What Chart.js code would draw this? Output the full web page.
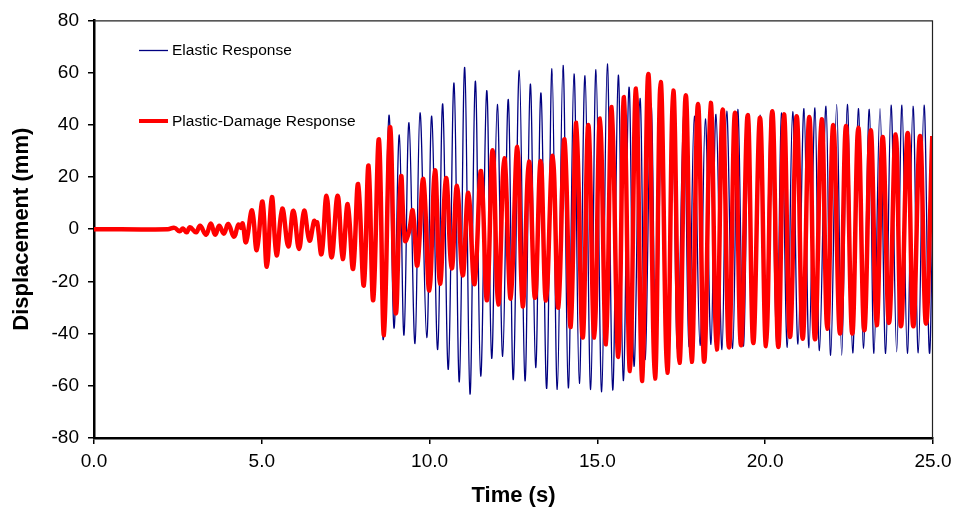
<!DOCTYPE html>
<html>
<head>
<meta charset="utf-8">
<script src="https://cdn.jsdelivr.net/npm/chart.js@4/dist/chart.umd.min.js"></script>
<style>
  html, body { margin: 0; padding: 0; background: #fff; }
  #wrap { width: 955px; height: 509px; position: relative; }
</style>
</head>
<body>
<div id="wrap"><canvas id="c" width="955" height="509"></canvas></div>
<script>
// ---- Data (time in s, displacement in mm) ----
// Shared early part (both responses coincide before ~8.5 s)
const earlyTime = [0, 2.20, 2.40, 2.55, 2.65, 2.76, 2.86, 3.04, 3.16, 3.34, 3.48, 3.61, 3.73, 3.87, 4.00, 4.17, 4.30, 4.37, 4.43, 4.53, 4.71, 4.85, 5.02, 5.15, 5.30, 5.44, 5.61, 5.79, 5.94, 6.11, 6.26, 6.42, 6.56, 6.60, 6.65, 6.78, 6.93, 7.08, 7.26, 7.41, 7.56, 7.72, 7.87, 8.04, 8.18, 8.32, 8.49];
const earlyDisp = [0, 0, 0.5, -0.8, 0.3, -1.2, 0.7, -1.2, 1.3, -2.1, 2.2, -2.1, 1.3, -1.7, 2.0, -2.9, 1.7, 0.5, 2.2, -5.0, 7.2, -8.0, 10.6, -14.4, 12.3, -10.0, 7.9, -6.6, 7.1, -7.6, 7.1, -4.4, 3.2, 2.0, 2.6, -9.5, 12.8, -10.8, 12.8, -11.4, 9.6, -15.2, 17.3, -21.6, 24.4, -27.2, 34.4];

// Elastic response after 8.5 s
const elasticTime = [8.620, 8.790, 8.939, 9.097, 9.237, 9.386, 9.565, 9.714, 9.914, 10.063, 10.241, 10.390, 10.557, 10.727, 10.885, 11.046, 11.204, 11.362, 11.523, 11.702, 11.850, 12.017, 12.178, 12.345, 12.494, 12.673, 12.843, 13.001, 13.161, 13.319, 13.489, 13.647, 13.805, 13.975, 14.133, 14.303, 14.461, 14.631, 14.800, 14.958, 15.128, 15.295, 15.456, 15.623, 15.772, 15.942, 16.091, 16.269, 16.418, 16.597, 16.746, 16.925, 17.074, 17.238, 17.387, 17.580, 17.729, 17.887, 18.057, 18.215, 18.385, 18.534, 18.713, 18.853, 19.032, 19.181, 19.348, 19.508, 19.666, 19.845, 20.003, 20.173, 20.343, 20.492, 20.659, 20.819, 20.977, 21.156, 21.305, 21.484, 21.618, 21.812, 21.952, 22.130, 22.280, 22.446, 22.607, 22.774, 22.923, 23.102, 23.242, 23.421, 23.590, 23.749, 23.918, 24.076, 24.234, 24.404, 24.562, 24.732, 24.890, 25.0];
const elasticDisp = [-42.3, 43.7, -37.9, 36.1, -40.6, 40.8, -43.8, 44.6, -41.5, 43.3, -46.1, 48.0, -53.7, 56.0, -58.5, 62.0, -63.2, 56.7, -56.3, 53.1, -49.5, 47.8, -48.7, 49.7, -57.6, 60.8, -58.1, 55.6, -53.0, 52.2, -61.0, 61.5, -61.4, 62.8, -60.8, 59.5, -59.1, 58.8, -61.4, 61.1, -62.3, 63.3, -61.6, 59.0, -58.0, 54.4, -52.5, 50.1, -50.0, 48.0, -48.0, 46.0, -47.0, 46.0, -46.0, 46.2, -45.0, 43.3, -44.5, 42.3, -44.1, 44.0, -46.1, 45.2, -45.7, 45.9, -44.8, 44.2, -43.8, 43.7, -43.2, 45.2, -44.8, 44.6, -45.3, 45.0, -44.0, 46.2, -45.5, 46.5, -46.5, 47.1, -48.3, 47.8, -48.3, 47.8, -47.4, 46.2, -45.7, 45.9, -47.6, 46.2, -47.6, 47.5, -47.0, 47.5, -47.6, 47.1, -47.4, 47.5, -47.0, 10.0];

// Plastic-damage response after 8.5 s
const plasticTime = [8.641, 8.820, 8.990, 9.148, 9.267, 9.386, 9.497, 9.634, 9.812, 9.991, 10.161, 10.310, 10.489, 10.659, 10.816, 10.986, 11.153, 11.338, 11.532, 11.710, 11.880, 12.047, 12.226, 12.417, 12.613, 12.774, 12.962, 13.141, 13.310, 13.468, 13.668, 13.835, 14.020, 14.204, 14.371, 14.562, 14.729, 14.908, 15.077, 15.256, 15.426, 15.623, 15.793, 15.971, 16.150, 16.338, 16.517, 16.716, 16.886, 17.083, 17.262, 17.446, 17.634, 17.810, 17.998, 18.182, 18.376, 18.555, 18.734, 18.921, 19.100, 19.279, 19.479, 19.645, 19.845, 20.024, 20.212, 20.391, 20.560, 20.739, 20.939, 21.118, 21.314, 21.484, 21.684, 21.851, 22.029, 22.229, 22.408, 22.595, 22.774, 22.953, 23.144, 23.322, 23.501, 23.689, 23.888, 24.047, 24.246, 24.413, 24.613, 24.791, 24.979];
const plasticDisp = [-40.6, 39.1, -32.1, 20.0, -4.4, -1.0, 7.1, -13.9, 19.2, -23.5, 22.6, -20.9, 19.6, -15.0, 16.6, -17.7, 13.9, -21.0, 22.3, -27.2, 30.2, -28.8, 27.2, -26.6, 31.5, -29.6, 25.9, -26.3, 26.1, -27.3, 28.1, -30.1, 34.4, -37.5, 40.8, -41.5, 39.9, -41.5, 42.4, -44.1, 46.8, -48.9, 50.6, -54.3, 53.9, -58.1, 59.5, -57.2, 56.4, -55.0, 53.1, -51.2, 51.3, -50.8, 48.0, -50.8, 48.4, -46.1, 45.9, -45.3, 44.6, -44.5, 43.7, -43.6, 42.7, -44.8, 45.2, -45.1, 44.0, -41.3, 43.3, -42.0, 43.0, -42.2, 42.1, -38.1, 39.9, -40.0, 39.5, -40.0, 38.9, -38.7, 37.9, -36.8, 35.3, -35.9, 36.3, -37.2, 36.9, -37.2, 35.7, -36.2, 35.7];

const seriesNames = ['Elastic Response', 'Plastic-Damage Response'];
const xTickLabels = ['0.0', '5.0', '10.0', '15.0', '20.0', '25.0'];
const yTickLabels = ['80', '60', '40', '20', '0', '-20', '-40', '-60', '-80'];

// ---- build point lists ----
function pts(ts, vs) { return ts.map((t, i) => ({ x: t, y: vs[i] })); }
const elasticPts = pts(earlyTime.concat(elasticTime), earlyDisp.concat(elasticDisp));
const plasticPts = pts(earlyTime.concat(plasticTime), earlyDisp.concat(plasticDisp));

const FONT = "'Liberation Sans', Arial, Helvetica, sans-serif";

const framePlugin = {
  id: 'frame',
  afterDatasetsDraw(chart) {
    const { ctx, chartArea: a } = chart;
    ctx.save();
    ctx.strokeStyle = '#222';
    ctx.lineWidth = 1.2;
    ctx.beginPath();
    ctx.moveTo(a.left, a.top + 0.5);
    ctx.lineTo(a.right - 0.5, a.top + 0.5);
    ctx.lineTo(a.right - 0.5, a.bottom);
    ctx.stroke();
    ctx.restore();
  }
};

const legendPlugin = {
  id: 'customLegend',
  afterDraw(chart) {
    const { ctx } = chart;
    const items = [
      { name: seriesNames[0], color: '#000080', width: 1.3, y: 50.5 },
      { name: seriesNames[1], color: '#ff0000', width: 4, y: 121 }
    ];
    ctx.save();
    ctx.font = '15.5px ' + FONT;
    ctx.textBaseline = 'middle';
    ctx.fillStyle = '#000';
    items.forEach(it => {
      ctx.strokeStyle = it.color;
      ctx.lineWidth = it.width;
      ctx.beginPath();
      ctx.moveTo(139, it.y);
      ctx.lineTo(168, it.y);
      ctx.stroke();
      ctx.fillText(it.name, 172, it.y + 0.5);
    });
    ctx.restore();
  }
};

new Chart(document.getElementById('c'), {
  type: 'line',
  data: {
    datasets: [
      {
        label: seriesNames[0],
        data: elasticPts,
        borderColor: '#000080',
        borderWidth: 1.3,
        pointRadius: 0,
        tension: 0.4,
        fill: false,
        order: 2
      },
      {
        label: seriesNames[1],
        data: plasticPts,
        borderColor: '#ff0000',
        borderWidth: 4.5,
        pointRadius: 0,
        tension: 0.4,
        fill: false,
        order: 1
      }
    ]
  },
  options: {
    responsive: false,
    animation: false,
    devicePixelRatio: 1,
    layout: { padding: { left: 0, right: 22, top: 19, bottom: 0 } },
    plugins: { legend: { display: false }, tooltip: { enabled: false } },
    scales: {
      x: {
        type: 'linear',
        min: 0, max: 25,
        afterBuildTicks(scale) {
          scale.ticks = xTickLabels.map(s => ({ value: parseFloat(s) }));
        },
        ticks: {
          callback: (v) => xTickLabels.find(s => parseFloat(s) === v),
          font: { family: FONT, size: 19 },
          color: '#000',
          padding: 6,
          maxRotation: 0,
          autoSkip: false
        },
        grid: { drawOnChartArea: false, drawTicks: true, tickLength: 6, color: '#000', lineWidth: 1.5 },
        border: { display: true, color: '#000', width: 2.5 },
        title: {
          display: true, text: 'Time (s)', color: '#000',
          font: { family: FONT, size: 22, weight: 'bold' },
          padding: { top: 0, bottom: 0 }
        },
        afterFit(scale) { scale.height = 71; scale.paddingRight = 0; scale.paddingLeft = 0; }
      },
      y: {
        type: 'linear',
        min: -80, max: 80,
        afterBuildTicks(scale) {
          scale.ticks = yTickLabels.map(s => ({ value: parseFloat(s) }));
        },
        ticks: {
          callback: (v) => yTickLabels.find(s => parseFloat(s) === v),
          font: { family: FONT, size: 19 },
          color: '#000',
          padding: 9,
          autoSkip: false
        },
        grid: { drawOnChartArea: false, drawTicks: true, tickLength: 6, color: '#000', lineWidth: 1.5 },
        border: { display: true, color: '#000', width: 2.5 },
        title: {
          display: true, text: 'Displacement (mm)', color: '#000',
          font: { family: FONT, size: 22, weight: 'bold' },
          padding: { top: 9, bottom: 0 }
        },
        afterFit(scale) { scale.width = 94; }
      }
    }
  },
  plugins: [framePlugin, legendPlugin]
});
</script>
</body>
</html>
